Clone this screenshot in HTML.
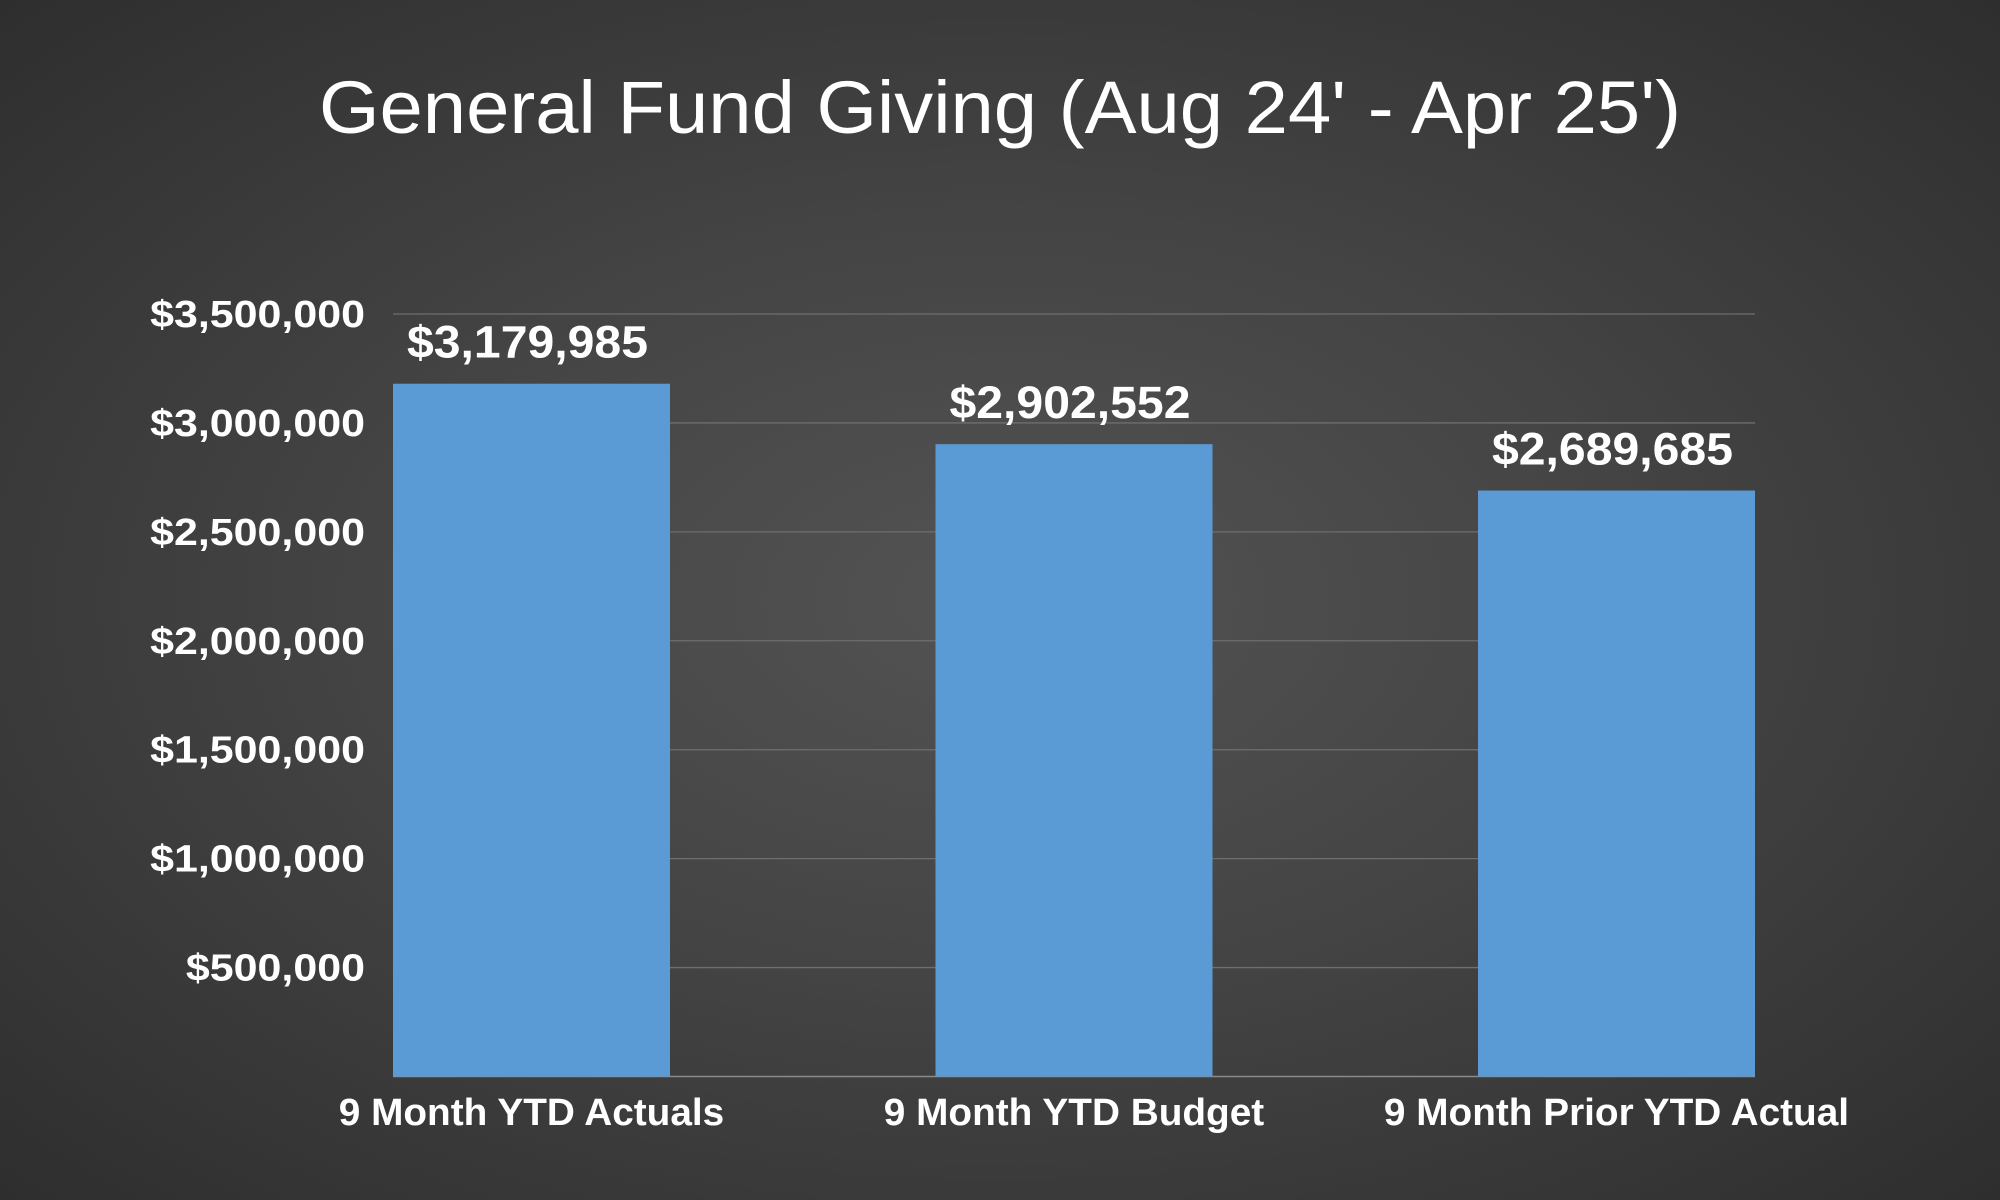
<!DOCTYPE html>
<html><head><meta charset="utf-8">
<style>
html,body{margin:0;padding:0;width:2000px;height:1200px;overflow:hidden;}
body{background:radial-gradient(ellipse at 50% 50%,#535353 0%,#444 45%,#2e2e2e 100%);font-family:"Liberation Sans",sans-serif;}
svg{display:block;}
</style></head>
<body>
<svg id="chart" width="2000" height="1200" viewBox="0 0 2000 1200" xmlns="http://www.w3.org/2000/svg">
<text x="1000" y="133" text-anchor="middle" fill="#fff" font-size="74" font-family="Liberation Sans, sans-serif" textLength="1362" lengthAdjust="spacingAndGlyphs">General Fund Giving (Aug 24' - Apr 25')</text>
<g id="grid"></g>
<g id="yticks"></g>
<g id="bars"></g>
<g id="vals"></g>
<g id="cats"></g>
</svg>
<script>
const categories = ["9 Month YTD Actuals", "9 Month YTD Budget", "9 Month Prior YTD Actual"];
const values = [3179985, 2902552, 2689685];
const valueLabels = ["$3,179,985", "$2,902,552", "$2,689,685"];
const tickValues = [500000, 1000000, 1500000, 2000000, 2500000, 3000000, 3500000];
const tickLabels = ["$500,000", "$1,000,000", "$1,500,000", "$2,000,000", "$2,500,000", "$3,000,000", "$3,500,000"];

const NS = "http://www.w3.org/2000/svg";
const plotL = 393, plotR = 1755, y0 = 1076.5, yTop = 314, maxV = 3500000;
function y(v){ return y0 - v / maxV * (y0 - yTop); }
const barW = 277;
function xc(i){ return plotL + barW / 2 + i * (plotR - plotL - barW) / (categories.length - 1); }
function mk(tag, attrs, parent){ const e = document.createElementNS(NS, tag); for (const k in attrs) e.setAttribute(k, attrs[k]); parent.appendChild(e); return e; }
function widen(t, f){ const w = t.getComputedTextLength(); t.setAttribute('textLength', w * f); t.setAttribute('lengthAdjust', 'spacingAndGlyphs'); }

const grid = document.getElementById('grid');
tickValues.forEach((v, i) => {
  const l = mk('line', {x1: plotL, x2: plotR, y1: y(v), y2: y(v), stroke: '#6e6e6e', 'stroke-width': 1.3}, grid);
  
  
  const t = mk('text', {x: 365, y: y(v) + 13, 'text-anchor': 'end', fill: '#fff', 'font-size': 38, 'font-weight': 'bold', 'font-family': 'Liberation Sans, sans-serif'}, document.getElementById('yticks'));
  t.textContent = tickLabels[i];
  
  
  widen(t, 1.13);
});
const ax = mk('line', {x1: plotL, x2: plotR, y1: y0, y2: y0, stroke: '#8a8a8a', 'stroke-width': 1.5}, grid);



values.forEach((v, i) => {
  const r = mk('rect', {x: xc(i) - barW / 2, y: y(v), width: barW, height: y0 - y(v), fill: '#5b9bd5'}, document.getElementById('bars'));
  
  
  const t = mk('text', {x: xc(i) - 4, y: y(v) - 26, 'text-anchor': 'middle', fill: '#fff', 'font-size': 45, 'font-weight': 'bold', 'font-family': 'Liberation Sans, sans-serif'}, document.getElementById('vals'));
  t.textContent = valueLabels[i];
  
  
  widen(t, 1.07);
  const c = mk('text', {x: xc(i), y: 1125, 'text-anchor': 'middle', fill: '#fff', 'font-size': 38, 'font-weight': 'bold', 'font-family': 'Liberation Sans, sans-serif'}, document.getElementById('cats'));
  c.textContent = categories[i];
  
  
  widen(c, 1.02);
});
</script>
</body></html>
